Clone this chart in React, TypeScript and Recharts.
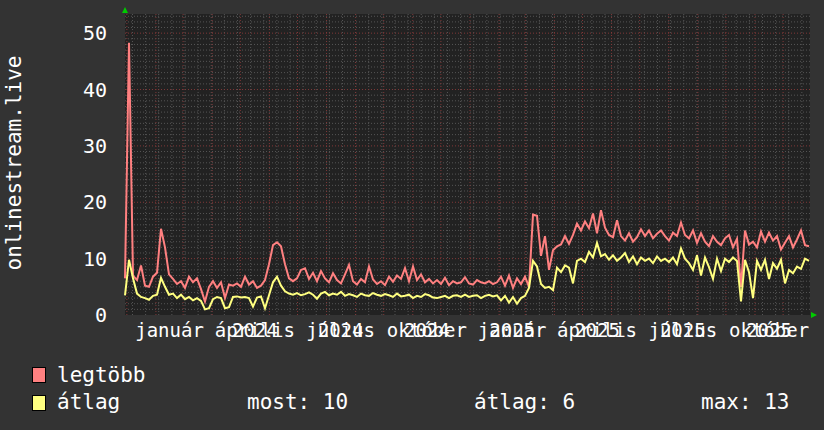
import React from 'react';
import { LineChart, Line, XAxis, YAxis, CartesianGrid, ReferenceLine } from 'recharts';

// legtöbb (max) and átlag (average) values, one sample every ~4.27 days from 2023-12-30
const maxValues = [
  6.5, 48.3, 7.0, 6.2, 8.8, 5.2, 5.0, 6.8, 7.5, 15.3, 12.0, 7.2, 6.4, 5.5, 6.0, 4.8,
  6.8, 5.8, 6.5, 4.6, 2.4, 5.0, 6.0, 4.8, 5.8, 3.0, 5.4, 5.2, 5.6, 5.0, 6.8, 5.4,
  6.0, 4.8, 5.2, 6.2, 9.0, 12.4, 12.9, 12.2, 9.0, 6.5, 6.0, 6.5, 8.0, 8.3, 6.4, 7.5,
  6.0, 7.8, 6.5, 5.8, 7.4, 6.2, 5.6, 7.2, 8.9, 6.0, 5.4, 6.4, 5.8, 8.6, 6.3, 5.5,
  6.0, 5.3, 6.8, 5.9, 7.0, 6.4, 8.3, 6.0, 8.6, 6.2, 7.2, 5.8, 6.4, 5.6, 6.2, 5.5,
  6.6, 5.3, 6.0, 5.6, 5.8, 6.7, 5.6, 5.4, 6.2, 5.8, 5.6, 6.0, 5.5, 5.8, 6.8, 5.2,
  7.0, 4.8, 6.5, 5.5, 6.8, 5.0, 17.8, 17.6, 10.5, 14.0, 8.0, 11.5, 12.2, 12.5, 14.0, 12.6,
  14.2, 16.2, 15.0, 16.6, 15.4, 18.0, 14.5, 18.6, 15.5, 14.2, 13.8, 16.8, 14.0, 13.2, 14.5, 13.0,
  13.8, 15.2, 14.0, 15.0, 13.6, 14.4, 15.0, 14.0, 13.2, 14.6, 14.0, 16.4, 14.2, 13.6, 15.0, 12.8,
  14.5, 13.0, 12.2, 14.0, 13.0, 12.4, 13.6, 14.2, 12.0, 13.5, 5.0, 15.0, 12.5, 13.0, 12.0, 14.8,
  13.0, 14.6, 13.2, 14.0, 11.6, 12.8, 14.0, 12.0, 13.4, 15.0, 12.4, 12.2,
];

const avgValues = [
  3.5, 9.8, 6.5, 3.8, 3.2, 3.0, 2.7, 3.4, 3.6, 6.6, 5.0, 3.6, 3.8, 3.0, 3.6, 2.8,
  3.2, 2.6, 3.0, 2.5, 1.0, 1.2, 2.8, 3.2, 3.0, 1.2, 1.4, 3.2, 3.3, 3.1, 3.2, 3.0,
  1.5, 3.1, 3.3, 1.2, 3.5, 5.8, 6.8, 5.2, 4.2, 3.8, 3.6, 3.9, 3.5, 3.7, 4.0, 3.6,
  2.9, 3.8, 4.1, 3.5, 3.8, 3.6, 4.1, 3.4, 3.7, 3.5, 3.2, 3.8, 3.5, 3.4, 3.9, 3.6,
  3.4, 3.7, 3.5, 3.2, 3.8, 3.3, 3.4, 3.6, 3.0, 3.4, 3.2, 3.7, 3.5, 3.1, 3.0, 3.2,
  3.4, 3.0, 3.4, 3.5, 3.2, 3.6, 3.2, 3.4, 3.5, 3.0, 3.4, 3.6, 3.3, 3.5, 2.6, 3.4,
  2.2, 3.2, 2.0, 3.0, 3.4, 4.8, 9.6, 8.6, 5.5, 4.8, 5.0, 4.4, 8.4, 7.6, 8.8, 8.4,
  5.6, 9.6, 10.0, 9.4, 11.2, 10.2, 12.8, 10.4, 10.8, 9.8, 10.6, 9.6, 10.2, 11.0, 9.4, 10.4,
  9.0, 10.2, 9.6, 10.0, 9.2, 10.4, 9.6, 10.0, 9.4, 10.2, 9.0, 11.8, 10.0, 9.2, 8.0, 10.6,
  7.0, 10.2, 8.5, 6.4, 10.0, 7.8, 10.0, 9.4, 10.2, 9.6, 2.4, 9.8, 7.6, 3.0, 9.6, 8.0,
  9.8, 6.4, 9.2, 8.2, 9.8, 5.6, 8.0, 7.4, 8.6, 8.2, 10.0, 9.6,
];

const yTicks = [0, 10, 20, 30, 40, 50];
const tickMonths = ['január', 'április', 'július', 'október', 'január', 'április', 'július', 'október'];
const tickYears = ['', '2024', '2024', '2024', '2025', '2025', '2025', '2025'];
const stats = { most: 10, atlag: 6, max: 13 };

const START = Date.UTC(2023, 11, 30);
const DAY = 86400000;
const SAMPLE_DAYS = 4.2667;
const toIdx = (ms: number) => (ms - START) / DAY / SAMPLE_DAYS;

const data = maxValues.map((v, i) => ({ i, max: v, avg: avgValues[i] }));
const lastIdx = maxValues.length - 0.75;

const monthLines = Array.from({ length: 24 }, (_, m) => toIdx(Date.UTC(2024, m, 1)));
// labels sit in the middle of each quarter
const quarterTicks = Array.from({ length: 8 }, (_, q) =>
  (toIdx(Date.UTC(2024, q * 3, 1)) + toIdx(Date.UTC(2024, q * 3 + 3, 1))) / 2
);
const weekLines: number[] = [];
for (let d = 8; d < 730; d += 14) weekLines.push(d / SAMPLE_DAYS);
const minorY = Array.from({ length: 53 }, (_, k) => k + 1).filter((v) => v % 10 !== 0);
const majorY = [10, 20, 30, 40, 50];

const FONT = '"DejaVu Sans Mono", monospace';
const MAX_COLOR = '#ff8080';
const AVG_COLOR = '#ffff80';

const MonthTick = (props: any) => {
  const { x, y, index } = props;
  return (
    <g fontFamily={FONT} fontSize={19} fill="#ffffff" textAnchor="middle">
      <text x={x} y={y + 22}>{tickMonths[index]}</text>
      {tickYears[index] && <text x={x} y={y + 22}>{tickYears[index]}</text>}
    </g>
  );
};

export default function App() {
  return (
    <div style={{ position: 'absolute', left: 0, top: 0, width: 824, height: 430, background: '#333333' }}>
      <LineChart width={824} height={430} data={data} margin={{ top: 14, right: 14, bottom: 0, left: 0 }}>
        <CartesianGrid horizontal={false} vertical={false} fill="#222222" />
        <XAxis
          type="number"
          dataKey="i"
          domain={[0, lastIdx]}
          ticks={quarterTicks}
          interval={0}
          height={115}
          tickLine={false}
          axisLine={false}
          tickSize={0}
          tickMargin={0}
          tick={<MonthTick />}
        />
        <YAxis
          type="number"
          domain={[0, 53.4]}
          ticks={yTicks}
          width={125}
          tickLine={false}
          axisLine={false}
          tickSize={0}
          tickMargin={18}
          tick={{ fill: '#ffffff', fontSize: 20, fontFamily: FONT }}
        />
        {minorY.map((v) => (
          <ReferenceLine key={`hy${v}`} y={v} stroke="#555555" strokeDasharray="1 2" />
        ))}
        {weekLines.map((v) => (
          <ReferenceLine key={`vx${v}`} x={v} stroke="#555555" strokeDasharray="1 2" />
        ))}
        {majorY.map((v) => (
          <ReferenceLine key={`HY${v}`} y={v} stroke="#803838" strokeDasharray="1 2" />
        ))}
        {monthLines.map((v) => (
          <ReferenceLine key={`VX${v}`} x={v} stroke="#803838" strokeDasharray="1 2" />
        ))}
        <Line dataKey="max" stroke={MAX_COLOR} strokeWidth={2} dot={false} activeDot={false} isAnimationActive={false} />
        <Line dataKey="avg" stroke={AVG_COLOR} strokeWidth={2} dot={false} activeDot={false} isAnimationActive={false} />
      </LineChart>
      <svg width={824} height={430} style={{ position: 'absolute', left: 0, top: 0, pointerEvents: 'none' }}>
        <text
          transform="translate(21,163) rotate(-90)"
          textAnchor="middle"
          fontFamily={FONT}
          fontSize={21}
          fill="#ffffff"
        >
          onlinestream.live
        </text>
        <polygon points="122,13 128,13 125,7" fill="#00cc00" />
        <polygon points="811,312 811,318 817,315" fill="#00cc00" />
        <g fontFamily={FONT} fontSize={21} fill="#ffffff">
          <rect x={32.5} y={367.5} width={13} height={15} fill={MAX_COLOR} stroke="#000000" />
          <text x={57} y={382}>legtöbb</text>
          <rect x={32.5} y={395.5} width={13} height={15} fill={AVG_COLOR} stroke="#000000" />
          <text x={57} y={409}>átlag</text>
          <text x={247} y={409}>most: {stats.most}</text>
          <text x={474} y={409}>átlag: {stats.atlag}</text>
          <text x={701} y={409}>max: {stats.max}</text>
        </g>
      </svg>
    </div>
  );
}
